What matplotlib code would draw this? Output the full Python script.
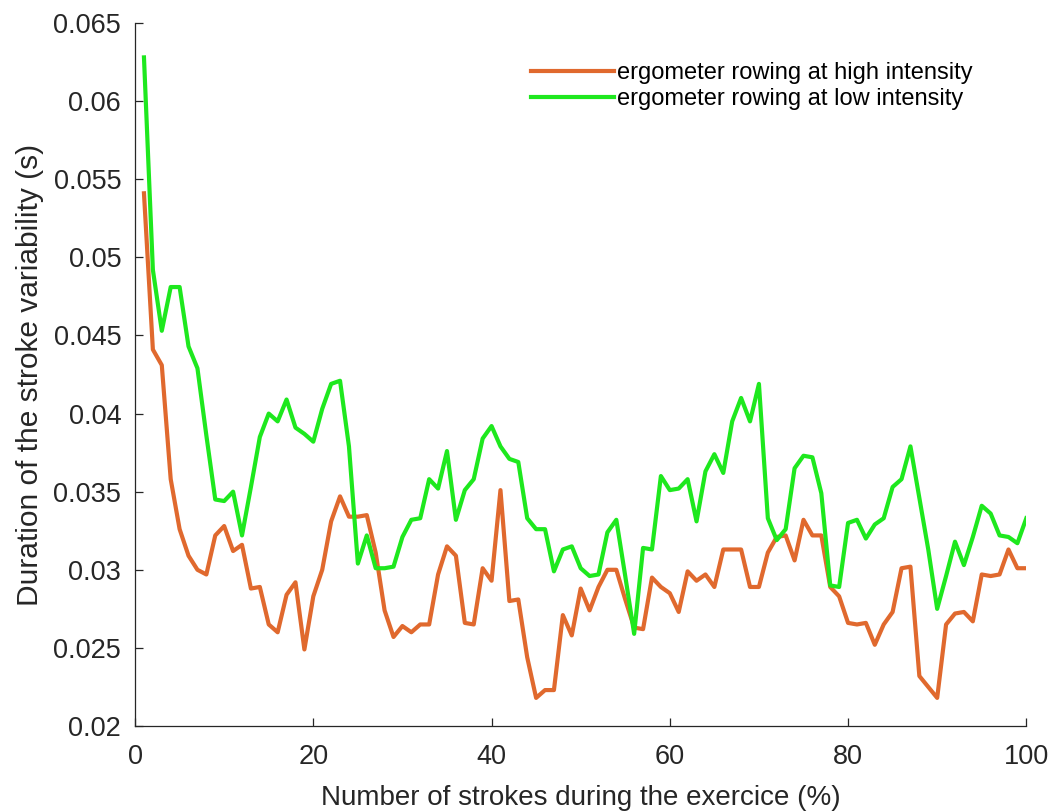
import numpy as np
import matplotlib
matplotlib.use("Agg")
import matplotlib.pyplot as plt

# Données (x = 1..100 %)
strokes = np.arange(1, 101)

high_intensity = [
    0.0541, 0.0441, 0.0431, 0.0358, 0.0326, 0.0309, 0.0300, 0.0297, 0.0322, 0.0328,
    0.0312, 0.0316, 0.0288, 0.0289, 0.0265, 0.0260, 0.0284, 0.0292, 0.0249, 0.0283,
    0.0300, 0.0331, 0.0347, 0.0334, 0.0334, 0.0335, 0.0311, 0.0274, 0.0257, 0.0264,
    0.0260, 0.0265, 0.0265, 0.0297, 0.0315, 0.0309, 0.0266, 0.0265, 0.0301, 0.0293,
    0.0351, 0.0280, 0.0281, 0.0244, 0.0218, 0.0223, 0.0223, 0.0271, 0.0258, 0.0288,
    0.0274, 0.0289, 0.0300, 0.0300, 0.0281, 0.0263, 0.0262, 0.0295, 0.0289, 0.0285,
    0.0273, 0.0299, 0.0293, 0.0297, 0.0289, 0.0313, 0.0313, 0.0313, 0.0289, 0.0289,
    0.0311, 0.0321, 0.0322, 0.0306, 0.0332, 0.0322, 0.0322, 0.0289, 0.0283, 0.0266,
    0.0265, 0.0266, 0.0252, 0.0265, 0.0273, 0.0301, 0.0302, 0.0232, 0.0225, 0.0218,
    0.0265, 0.0272, 0.0273, 0.0267, 0.0297, 0.0296, 0.0297, 0.0313, 0.0301, 0.0301,
]

low_intensity = [
    0.0628, 0.0492, 0.0453, 0.0481, 0.0481, 0.0443, 0.0429, 0.0386, 0.0345, 0.0344,
    0.0350, 0.0322, 0.0353, 0.0385, 0.0400, 0.0395, 0.0409, 0.0391, 0.0387, 0.0382,
    0.0403, 0.0419, 0.0421, 0.0379, 0.0304, 0.0322, 0.0301, 0.0301, 0.0302, 0.0321,
    0.0332, 0.0333, 0.0358, 0.0352, 0.0376, 0.0332, 0.0351, 0.0358, 0.0384, 0.0392,
    0.0379, 0.0371, 0.0369, 0.0333, 0.0326, 0.0326, 0.0299, 0.0313, 0.0315, 0.0301,
    0.0296, 0.0297, 0.0324, 0.0332, 0.0296, 0.0259, 0.0314, 0.0313, 0.0360, 0.0351,
    0.0352, 0.0358, 0.0331, 0.0363, 0.0374, 0.0362, 0.0395, 0.0410, 0.0395, 0.0419,
    0.0333, 0.0319, 0.0326, 0.0365, 0.0373, 0.0372, 0.0349, 0.0290, 0.0289, 0.0330,
    0.0332, 0.0320, 0.0329, 0.0333, 0.0353, 0.0358, 0.0379, 0.0346, 0.0313, 0.0275,
    0.0296, 0.0318, 0.0303, 0.0321, 0.0341, 0.0336, 0.0322, 0.0321, 0.0317, 0.0333,
]

labels = ["ergometer rowing at high intensity", "ergometer rowing at low intensity"]
x_ticks = [0, 20, 40, 60, 80, 100]
y_ticks = [0.02, 0.025, 0.03, 0.035, 0.04, 0.045, 0.05, 0.055, 0.06, 0.065]
y_tick_labels = ["0.02", "0.025", "0.03", "0.035", "0.04", "0.045", "0.05", "0.055", "0.06", "0.065"]

plt.rcParams["font.family"] = ["Liberation Sans", "DejaVu Sans"]

fig = plt.figure(figsize=(10.51, 8.11), dpi=100)
ax = fig.add_axes([0.1285, 0.1048, 0.848, 0.8668])

axis_color = "#262626"
ax.plot(strokes, high_intensity, color="#e0692e", linewidth=3, label=labels[0])
ax.plot(strokes, low_intensity, color="#1ee81e", linewidth=3, label=labels[1])

ax.set_xlim(0, 100)
ax.set_ylim(0.02, 0.065)
ax.set_xticks(x_ticks)
ax.set_yticks(y_ticks)
ax.set_yticklabels(y_tick_labels)

# Style MATLAB : pas de cadre en haut / à droite, graduations vers l'intérieur
ax.spines["top"].set_visible(False)
ax.spines["right"].set_visible(False)
for side in ["left", "bottom"]:
    ax.spines[side].set_color(axis_color)
    ax.spines[side].set_linewidth(0.9)
ax.tick_params(direction="in", length=6, width=0.9, colors=axis_color,
               labelsize=19.5)
ax.tick_params(axis="y", pad=10)
ax.tick_params(axis="x", pad=13)

ax.set_xlabel("Number of strokes during the exercice (%)", fontsize=20,
              color=axis_color, labelpad=11)
ax.set_ylabel("Duration of the stroke variability (s)", fontsize=21.5,
              color=axis_color, labelpad=7)

ax.legend(loc="upper right", bbox_to_anchor=(0.94, 0.944), frameon=False,
          borderaxespad=0, borderpad=0,
          fontsize=17, handlelength=3.5, handletextpad=0.15, labelspacing=0.15)

fig.savefig("out.png", dpi=100)
